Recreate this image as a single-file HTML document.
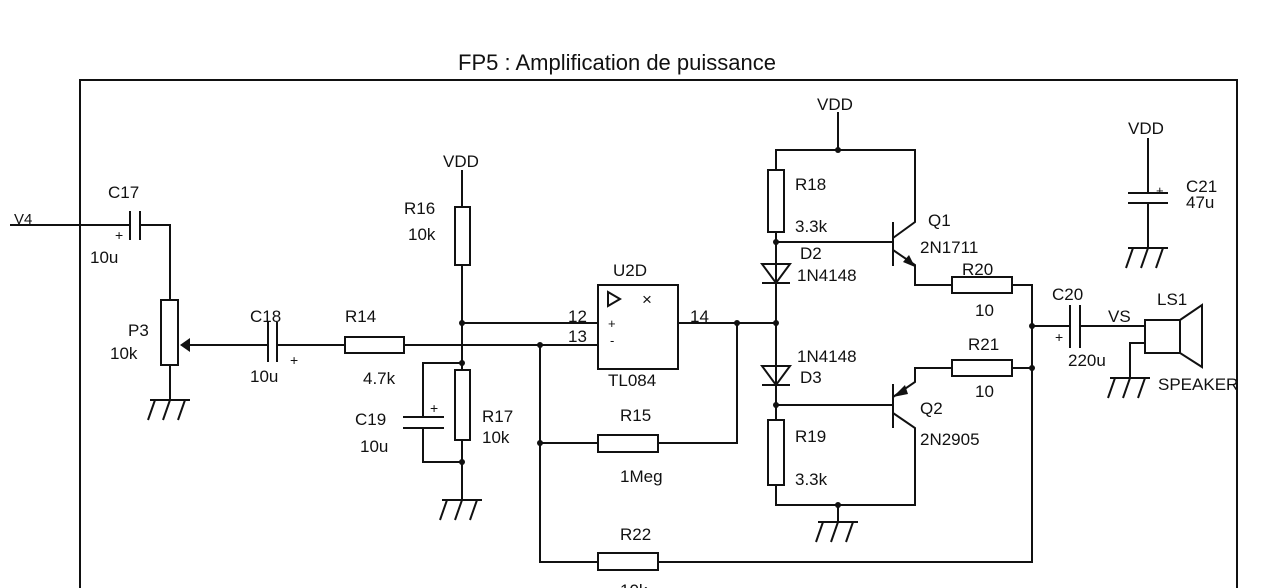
<!DOCTYPE html>
<html><head><meta charset="utf-8"><style>
html,body{margin:0;padding:0;background:#fff;}
svg{display:block}
text{font-family:"Liberation Sans",sans-serif;font-size:17px;fill:#111}
</style></head><body>
<svg width="1280" height="588" viewBox="0 0 1280 588" xmlns="http://www.w3.org/2000/svg">
<defs>
<g id="gnd" stroke="#111" stroke-width="2" fill="none">
<line x1="-20" y1="0" x2="20" y2="0"/>
<line x1="-15" y1="0" x2="-22" y2="20"/>
<line x1="0" y1="0" x2="-7" y2="20"/>
<line x1="15" y1="0" x2="8" y2="20"/>
</g>
</defs>
<text x="617" y="70" text-anchor="middle" style="font-size:22px">FP5 : Amplification de puissance</text>
<g stroke="#111" stroke-width="2" fill="none">
<polyline points="80,588 80,80 1237,80 1237,588"/>
<line x1="10" y1="225" x2="130" y2="225"/>
<line x1="130" y1="211" x2="130" y2="240"/><line x1="140" y1="211" x2="140" y2="240"/>
<polyline points="140,225 170,225 170,300"/>
<rect x="161" y="300" width="17" height="65"/>
<polyline points="170,365 170,400"/>
<line x1="186" y1="345" x2="268" y2="345"/>
<line x1="268" y1="322" x2="268" y2="362"/><line x1="277" y1="322" x2="277" y2="362"/>
<line x1="277" y1="345" x2="345" y2="345"/>
<rect x="345" y="337" width="59" height="16"/>
<line x1="404" y1="345" x2="598" y2="345"/>
<line x1="462" y1="323" x2="598" y2="323"/>
<line x1="462" y1="170" x2="462" y2="207"/>
<rect x="455" y="207" width="15" height="58"/>
<line x1="462" y1="265" x2="462" y2="370"/>
<rect x="455" y="370" width="15" height="70"/>
<line x1="462" y1="440" x2="462" y2="500"/>
<polyline points="462,363 423,363 423,417"/>
<line x1="403" y1="417" x2="444" y2="417"/><line x1="403" y1="428" x2="444" y2="428"/>
<polyline points="423,428 423,462 462,462"/>
<rect x="598" y="285" width="80" height="84"/>
<polygon points="608,292 608,306 620,299"/>
<line x1="678" y1="323" x2="776" y2="323"/>
<polyline points="540,345 540,562 598,562"/>
<line x1="540" y1="443" x2="598" y2="443"/>
<rect x="598" y="435" width="60" height="17"/>
<polyline points="658,443 737,443 737,323"/>
<rect x="598" y="553" width="60" height="17"/>
<polyline points="658,562 1032,562 1032,285 1012,285"/>
<line x1="838" y1="112" x2="838" y2="150"/>
<polyline points="776,170 776,150 915,150 915,222 893,238"/>
<rect x="768" y="170" width="16" height="62"/>
<line x1="776" y1="232" x2="776" y2="420"/>
<polygon points="762,264 790,264 776,283" />
<line x1="762" y1="283" x2="790" y2="283"/>
<polygon points="762,366 790,366 776,385"/>
<line x1="762" y1="385" x2="790" y2="385"/>
<line x1="776" y1="242" x2="893" y2="242"/>
<line x1="893" y1="222" x2="893" y2="266"/>
<polyline points="893,250 915,265 915,285 952,285"/>
<rect x="952" y="277" width="60" height="16"/>
<line x1="776" y1="405" x2="893" y2="405"/>
<line x1="893" y1="384" x2="893" y2="428"/>
<polyline points="893,397 915,382 915,368 952,368"/>
<polyline points="893,413 915,428 915,505 776,505 776,485"/>
<rect x="768" y="420" width="16" height="65"/>
<line x1="838" y1="505" x2="838" y2="522"/>
<rect x="952" y="360" width="60" height="16"/>
<line x1="1012" y1="368" x2="1032" y2="368"/>
<line x1="1032" y1="326" x2="1070" y2="326"/>
<line x1="1070" y1="305" x2="1070" y2="348"/><line x1="1080" y1="305" x2="1080" y2="348"/>
<line x1="1080" y1="326" x2="1145" y2="326"/>
<rect x="1145" y="320" width="35" height="33"/>
<polygon points="1180,320 1202,305 1202,367 1180,353"/>
<polyline points="1145,343 1130,343 1130,378"/>
<line x1="1148" y1="138" x2="1148" y2="193"/>
<line x1="1128" y1="193" x2="1168" y2="193"/><line x1="1128" y1="203" x2="1168" y2="203"/>
<line x1="1148" y1="203" x2="1148" y2="248"/>
</g>
<g fill="#111">
<polygon points="180,345 190,338 190,352"/>
<polygon points="915,267 903,262 909,255"/>
<polygon points="893,397 905,385 908,394"/>
<circle cx="462" cy="323" r="3"/><circle cx="462" cy="363" r="3"/><circle cx="462" cy="462" r="3"/>
<circle cx="540" cy="345" r="3"/><circle cx="540" cy="443" r="3"/>
<circle cx="737" cy="323" r="3"/><circle cx="776" cy="323" r="3"/>
<circle cx="776" cy="242" r="3"/><circle cx="776" cy="405" r="3"/>
<circle cx="838" cy="150" r="3"/><circle cx="838" cy="505" r="3"/>
<circle cx="1032" cy="326" r="3"/><circle cx="1032" cy="368" r="3"/>
</g>
<use href="#gnd" x="170" y="400"/>
<use href="#gnd" x="462" y="500"/>
<use href="#gnd" x="838" y="522"/>
<use href="#gnd" x="1130" y="378"/>
<use href="#gnd" x="1148" y="248"/>
<text x="14" y="224" style="font-size:15px">V4</text>
<text x="108" y="198">C17</text><text x="115" y="240" style="font-size:14px">+</text><text x="90" y="263">10u</text>
<text x="128" y="336">P3</text><text x="110" y="359">10k</text>
<text x="250" y="322">C18</text><text x="250" y="382">10u</text><text x="290" y="365" style="font-size:14px">+</text>
<text x="345" y="322">R14</text><text x="363" y="384">4.7k</text>
<text x="443" y="167">VDD</text>
<text x="404" y="214">R16</text><text x="408" y="240">10k</text>
<text x="355" y="425">C19</text><text x="360" y="452">10u</text><text x="430" y="413" style="font-size:14px">+</text>
<text x="482" y="422">R17</text><text x="482" y="443">10k</text>
<text x="613" y="276">U2D</text><text x="608" y="386">TL084</text>
<text x="642" y="305">×</text>
<text x="608" y="328" style="font-size:13px">+</text><text x="610" y="345" style="font-size:13px">-</text>
<text x="568" y="322">12</text><text x="568" y="342">13</text><text x="690" y="322">14</text>
<text x="620" y="421">R15</text><text x="620" y="482">1Meg</text>
<text x="620" y="540">R22</text><text x="620" y="596">10k</text>
<text x="817" y="110">VDD</text>
<text x="795" y="190">R18</text><text x="795" y="232">3.3k</text>
<text x="800" y="259">D2</text><text x="797" y="281">1N4148</text>
<text x="797" y="362">1N4148</text><text x="800" y="383">D3</text>
<text x="795" y="442">R19</text><text x="795" y="485">3.3k</text>
<text x="928" y="226">Q1</text>
<text x="920" y="253">2N1711</text>
<text x="962" y="275">R20</text><text x="975" y="316">10</text>
<text x="968" y="350">R21</text><text x="975" y="397">10</text>
<text x="920" y="414">Q2</text><text x="920" y="445">2N2905</text>
<text x="1052" y="300">C20</text><text x="1055" y="342" style="font-size:14px">+</text><text x="1068" y="366">220u</text>
<text x="1108" y="322">VS</text><text x="1157" y="305">LS1</text><text x="1158" y="390">SPEAKER</text>
<text x="1128" y="134">VDD</text><text x="1156" y="195" style="font-size:13px">+</text>
<text x="1186" y="192">C21</text><text x="1186" y="208">47u</text>
</svg>
</body></html>
